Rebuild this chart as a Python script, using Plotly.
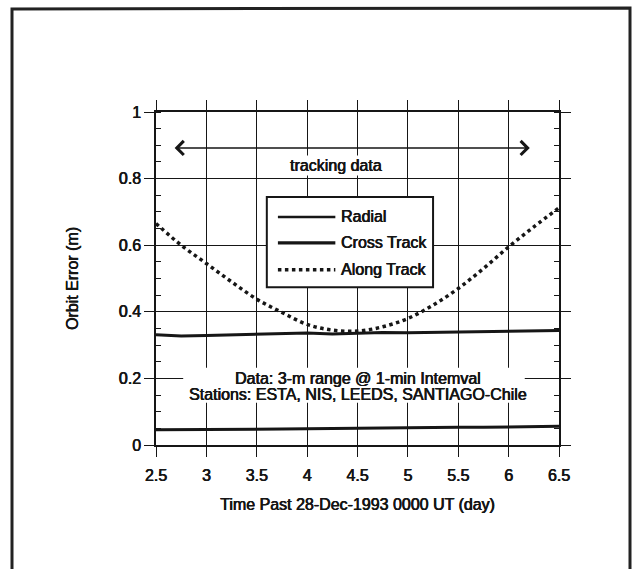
import plotly.graph_objects as go

# Orbit error components vs. time past epoch (days)
t_days = [2.5, 2.75, 3.0, 3.25, 3.5, 3.75, 4.0, 4.25, 4.5, 4.75,
          5.0, 5.25, 5.5, 5.75, 6.0, 6.25, 6.5]
radial_m = [0.046, 0.046, 0.047, 0.047, 0.048, 0.048, 0.049, 0.050, 0.050,
            0.051, 0.051, 0.052, 0.053, 0.053, 0.054, 0.055, 0.056]
cross_track_m = [0.331, 0.327, 0.329, 0.331, 0.333, 0.335, 0.336, 0.333, 0.336,
                 0.338, 0.337, 0.338, 0.339, 0.340, 0.341, 0.342, 0.344]
along_track_m = [0.665, 0.600, 0.545, 0.490, 0.438, 0.398, 0.362, 0.345, 0.342,
                 0.355, 0.380, 0.420, 0.470, 0.530, 0.595, 0.655, 0.712]

x_ticks = [2.5, 3, 3.5, 4, 4.5, 5, 5.5, 6, 6.5]
y_ticks = [0, 0.2, 0.4, 0.6, 0.8, 1]

FONT = "Liberation Sans, Arial, Helvetica, sans-serif"
INK = "#161616"
# slight horizontal smear gives the heavier, photocopied stroke weight
HEAVY = "0.45px 0 0 #161616, -0.2px 0 0 #161616"


def font(size=16):
    return dict(family=FONT, size=size, color=INK, shadow=HEAVY)


fig = go.Figure()
fig.add_trace(go.Scatter(x=t_days, y=radial_m, mode="lines", name="Radial",
                         line=dict(color=INK, width=3)))
fig.add_trace(go.Scatter(x=t_days, y=cross_track_m, mode="lines", name="Cross Track",
                         line=dict(color=INK, width=3)))
fig.add_trace(go.Scatter(x=t_days, y=along_track_m, mode="lines", name="Along Track",
                         line=dict(color=INK, width=3.5, dash="dot", shape="spline")))

# hand-drawn legend box
legend_items = [("Radial", 0.685, 2.5, "solid"),
                ("Cross Track", 0.607, 3.2, "solid"),
                ("Along Track", 0.526, 3.5, "dot")]
shapes = [dict(type="rect", xref="x", yref="y", x0=3.60, x1=5.25, y0=0.474, y1=0.745,
               fillcolor="white", line=dict(color=INK, width=2), layer="between")]
annotations = []
for label, yy, w, dash in legend_items:
    shapes.append(dict(type="line", xref="x", yref="y", x0=3.71, x1=4.28, y0=yy, y1=yy,
                       line=dict(color=INK, width=w, dash=dash), layer="above"))
    annotations.append(dict(x=4.32, y=yy, xref="x", yref="y", text=label, showarrow=False,
                            xanchor="left", yanchor="middle", font=font(16)))

# white panel behind the data note
shapes.append(dict(type="rect", xref="x", yref="y", x0=2.77, x1=6.16, y0=0.127, y1=0.232,
                   fillcolor="white", line=dict(width=0), layer="between"))
annotations.append(dict(x=4.5, y=0.201, xref="x", yref="y",
                        text="Data: 3-m range @ 1-min Intemval", showarrow=False,
                        font=font(16)))
annotations.append(dict(x=4.5, y=0.153, xref="x", yref="y",
                        text="Stations: ESTA, NIS, LEEDS, SANTIAGO-Chile", showarrow=False,
                        font=font(16)))

# tracking-data span arrow
annotations.append(dict(x=6.21, y=0.892, ax=2.67, ay=0.892, xref="x", yref="y",
                        axref="x", ayref="y", text="", showarrow=True,
                        arrowhead=4, startarrowhead=4, arrowside="end+start",
                        arrowsize=1.8, startarrowsize=1.8, arrowwidth=1.5, arrowcolor=INK))
annotations.append(dict(x=4.29, y=0.84, xref="x", yref="y", text="tracking data",
                        showarrow=False, bgcolor="white", borderpad=1, font=font(16)))


# outer frame (left, top, right)
def px_x(p):
    return (p - 156) / 403.0


def px_y(p):
    return (445 - p) / 333.0


shapes.append(dict(type="path", xref="paper", yref="paper",
                   path=f"M {px_x(12)},{px_y(569)} L {px_x(12)},{px_y(9)} "
                        f"L {px_x(630)},{px_y(8)} L {px_x(630)},{px_y(569)}",
                   line=dict(color="#222222", width=3)))

axis_common = dict(showline=True, linecolor=INK, linewidth=1.5, mirror="ticks",
                   showgrid=True, gridcolor=INK, gridwidth=1.3, zeroline=False,
                   ticks="outside", tickcolor=INK, tickwidth=1.3, ticklen=10,
                   tickfont=font(16))

fig.update_layout(
    width=633, height=569,
    margin=dict(l=156, r=74, t=112, b=124),
    paper_bgcolor="white", plot_bgcolor="white",
    showlegend=False,
    shapes=shapes, annotations=annotations,
    xaxis=dict(range=[2.5, 6.5], tickvals=x_ticks, ticklabelstandoff=5, **axis_common,
               title=dict(text="Time Past 28-Dec-1993 0000 UT (day)",
                          font=font(16), standoff=16)),
    yaxis=dict(range=[0, 1], tickvals=y_ticks, **axis_common,
               minor=dict(dtick=0.05, ticks="inside", ticklen=5, tickcolor=INK,
                          tickwidth=1.3, showgrid=False),
               title=dict(text="Orbit Error (m)", font=font(16), standoff=36)),
)

fig.write_html("out.html")
